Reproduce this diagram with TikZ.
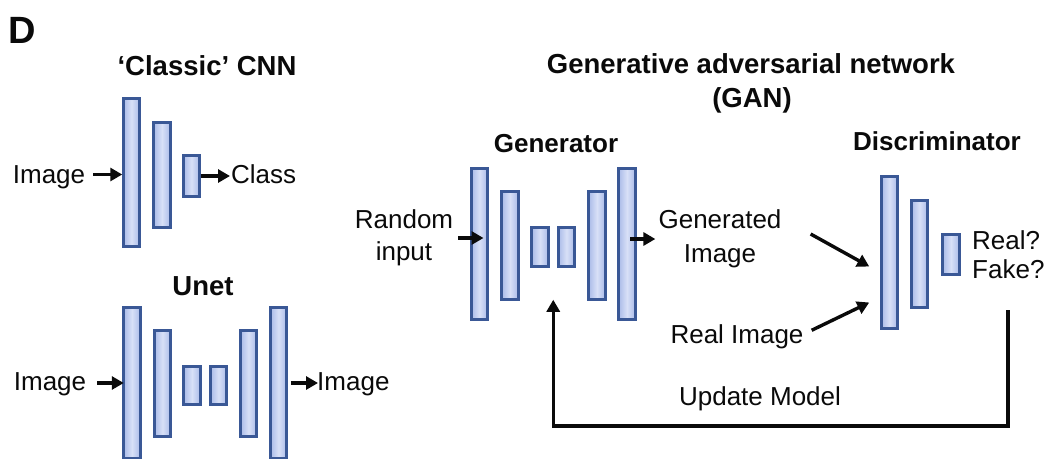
\documentclass[tikz,border=0pt]{standalone}
\usepackage{fontspec}
\setmainfont{Liberation Sans}
\usetikzlibrary{arrows.meta,calc}
\definecolor{barlight}{HTML}{D8E0F7}
\definecolor{barside}{HTML}{AABBE8}
\definecolor{barline}{HTML}{3A5896}
\definecolor{ink}{HTML}{0A0A0A}
\tikzset{
  layer/.style={draw=barline, line width=2.6pt, left color=barside, right color=barside,
    middle color=barlight, minimum width=16.5pt, inner sep=0pt, outer sep=0pt},
  lab/.style={inner sep=0pt, text=ink, font=\fontsize{26}{30}\selectfont},
  ttl/.style={inner sep=0pt, text=ink, font=\fontsize{26}{30}\selectfont\bfseries},
  bigttl/.style={ttl, font=\fontsize{27.5}{30}\selectfont\bfseries},
  conn/.style={line width=3.4pt, draw=ink, -{Triangle[length=12pt,width=13pt]}},
}
\begin{document}
\begin{tikzpicture}[x=1pt,y=-1pt]
\useasboundingbox (0,0) rectangle (1057,458);
\clip (0,0) rectangle (1057,458);
\fill[white] (0,0) rectangle (1057,458);

% panel letter and titles
\node[ttl, font=\fontsize{38}{40}\selectfont\bfseries, anchor=base west] (panel) at (8,43) {D};
\node[bigttl, anchor=base] (tcnn) at (207,75) {‘Classic’ CNN};
\node[bigttl, anchor=base] (tunet) at (203,295) {Unet};
\node[bigttl, anchor=base] (tgan) at (751,73) {Generative adversarial network};
\node[bigttl, anchor=base] (tgan2) at (752,107) {(GAN)};
\node[ttl, anchor=base] (tgen) at (556,152) {Generator};
\node[ttl, anchor=base] (tdis) at (937,150) {Discriminator};

% classic CNN layers
\node[layer, minimum height=148.5pt] (c1) at (131.5,172.5) {};
\node[layer, minimum height=105.5pt] (c2) at (162,175) {};
\node[layer, minimum height=41.5pt]  (c3) at (191.5,176) {};

% Unet layers
\node[layer, minimum height=151.5pt] (u1) at (132,383) {};
\node[layer, minimum height=106.5pt] (u2) at (162.5,383.5) {};
\node[layer, minimum height=38.5pt]  (u3) at (192,385.5) {};
\node[layer, minimum height=38.5pt]  (u4) at (218.5,385.5) {};
\node[layer, minimum height=106.5pt] (u5) at (248.5,383.5) {};
\node[layer, minimum height=151.5pt] (u6) at (278.5,383) {};

% generator layers
\node[layer, minimum height=151.5pt] (g1) at (479.5,244) {};
\node[layer, minimum height=108.5pt] (g2) at (510,245.5) {};
\node[layer, minimum height=39.5pt]  (g3) at (540,247) {};
\node[layer, minimum height=39.5pt]  (g4) at (566.5,247) {};
\node[layer, minimum height=108.5pt] (g5) at (597,245.5) {};
\node[layer, minimum height=151.5pt] (g6) at (627,244) {};

% discriminator layers
\node[layer, minimum height=152.5pt] (d1) at (889.5,252.5) {};
\node[layer, minimum height=107.5pt] (d2) at (919.5,254) {};
\node[layer, minimum height=40.5pt]  (d3) at (951,254.5) {};

% labels
\node[lab, anchor=base] (img1) at (49,183) {Image};
\node[lab, anchor=base west] (cls) at (231,183) {Class};
\node[lab, anchor=base] (img2) at (50,390) {Image};
\node[lab, anchor=base west] (img3) at (317,390) {Image};
\node[lab, align=center, font=\fontsize{26}{32}\selectfont] (rin) at (404,238) {Random\\input};
\node[lab, align=center, font=\fontsize{26}{34}\selectfont] (gimg) at (720,239) {Generated\\Image};
\node[lab, anchor=base] (rimg) at (737,343) {Real Image};
\node[lab, align=left, anchor=west, font=\fontsize{26}{29}\selectfont] (rf) at (972,255) {Real?\\Fake?};
\node[lab, anchor=base] (upd) at (760,405) {Update Model};

% connectors
\draw[conn] ($(img1.east |- c1.west)+(8,2)$) -- ($(c1.west)+(-1,2)$);
\draw[conn] ($(c3.east)+(1,0)$) -- ($(c3.east -| cls.west)+(-1,0)$);
\draw[conn] ($(img2.east |- u1.west)+(11,0)$) -- (u1.west);
\draw[conn] ($(u6.east)+(4,0)$) -- ($(u6.east -| img3.west)+(1,0)$);
\draw[conn] ($(rin.east)+(5,0)$) -- ($(rin.east -| g1.center)+(4,0)$);
\draw[conn] ($(g6.center |- gimg.west)+(3,0)$) -- ($(gimg.west)+(-3,0)$);
\draw[conn] ($(gimg.east)+(29,-5)$) -- ($(d1.west)+(-12,14)$);
\draw[conn] ($(rimg.east)+(8,-6)$) -- ($(d1.west)+(-12,50)$);

% feedback loop
\coordinate (fbs) at (1008,310);
\coordinate (fbc) at (1008,426);
\draw[conn] (fbs) -- (fbc) -| ($(g3.south)!0.5!(g4.south)+(0,33)$);
\end{tikzpicture}
\end{document}
